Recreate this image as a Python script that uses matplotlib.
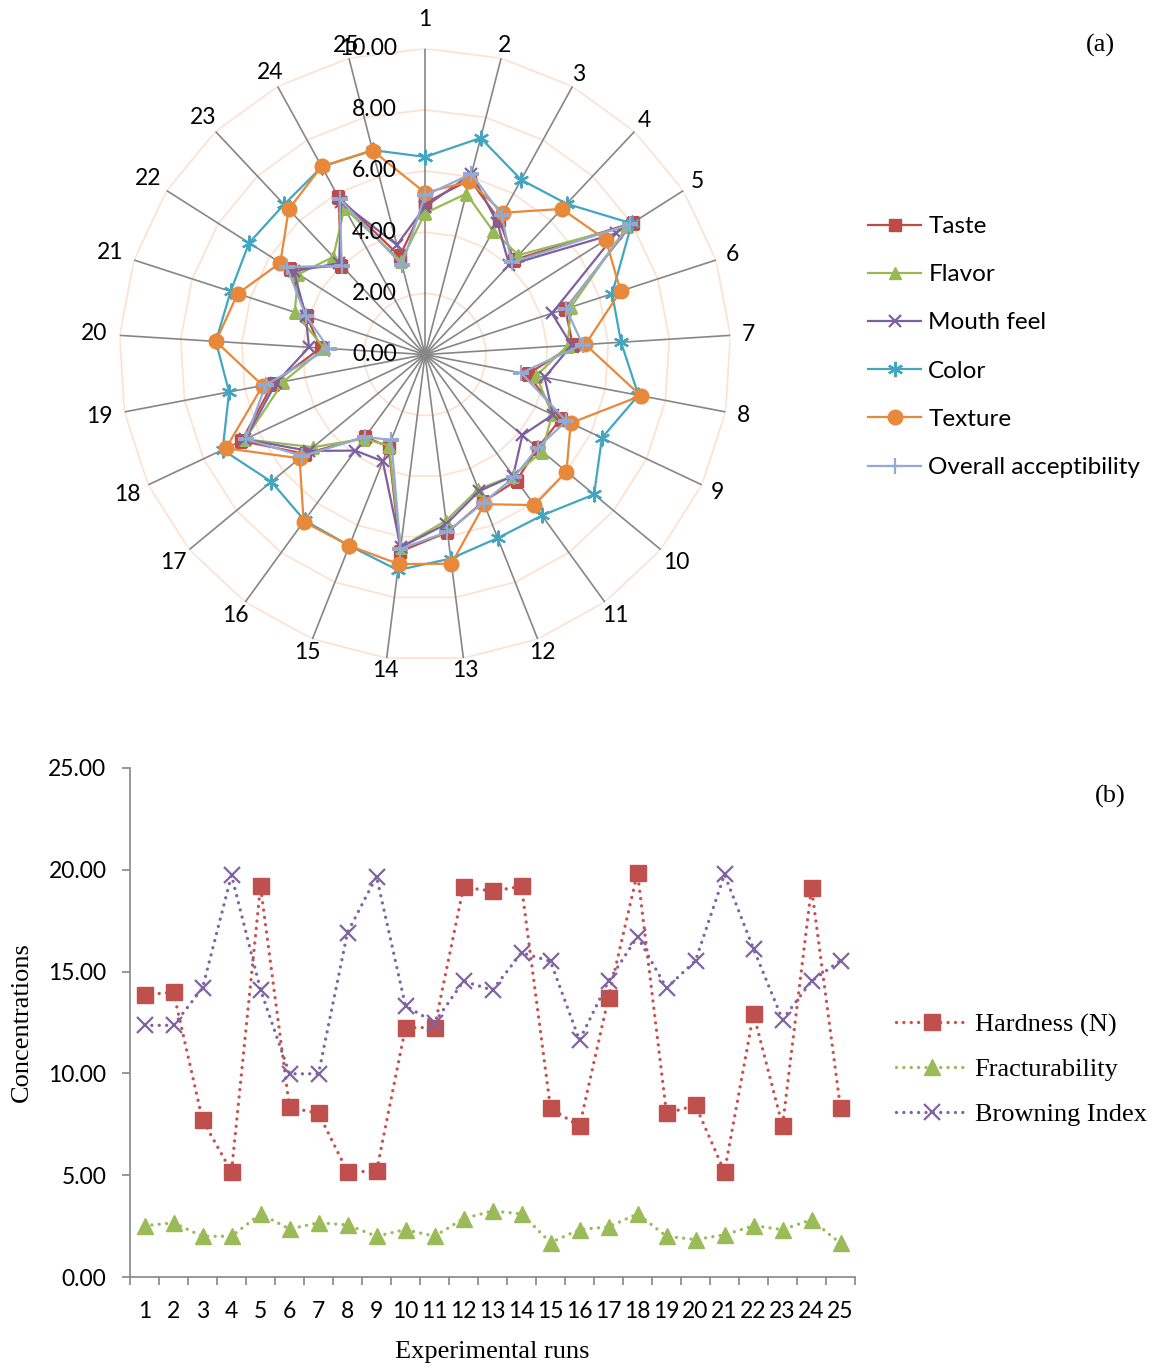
import numpy as np
import matplotlib
matplotlib.use("Agg")
import matplotlib.pyplot as plt
from matplotlib import transforms

SANS = "Lato"
SERIF = "Liberation Serif"

runs = list(range(1, 26))
run_labels = [str(r) for r in runs]

# sensory scores, one value per experimental run
taste = [4.95, 5.90, 5.03, 4.24, 8.04, 4.82, 4.84, 3.42, 4.91, 4.78, 5.09, 5.17, 5.85,
         6.49, 3.24, 3.33, 5.09, 6.63, 5.06, 3.42, 4.07, 5.21, 3.99, 5.88, 3.32]
flavor = [4.62, 5.43, 4.61, 4.46, 7.83, 5.01, 4.67, 3.70, 4.59, 4.97, 4.90, 4.73, 5.47,
          6.35, 3.20, 3.40, 4.75, 6.50, 4.71, 3.30, 4.48, 4.90, 4.38, 5.47, 3.15]
mouth_feel = [4.83, 6.10, 4.91, 4.02, 7.40, 4.36, 4.80, 3.98, 4.62, 4.13, 4.90, 4.80, 5.58,
              6.35, 3.75, 3.88, 4.94, 6.50, 4.96, 3.80, 4.10, 5.08, 4.10, 5.70, 3.70]
color = [6.46, 7.31, 6.52, 6.76, 8.00, 6.43, 6.42, 7.10, 6.39, 7.17, 6.50, 6.45, 6.72,
         7.10, 6.72, 6.70, 6.52, 7.31, 6.52, 6.85, 6.68, 6.81, 6.73, 7.00, 6.90]
texture = [5.29, 5.84, 5.29, 6.53, 7.00, 6.72, 5.25, 7.18, 5.26, 6.00, 6.08, 5.26, 6.89,
           6.90, 6.72, 6.75, 5.32, 7.19, 5.40, 6.85, 6.44, 5.60, 6.51, 7.02, 6.88]
overall = [5.20, 6.10, 5.20, 4.13, 7.95, 4.85, 5.16, 3.20, 5.10, 4.78, 4.95, 5.20, 5.84,
           6.40, 3.00, 3.33, 5.20, 6.48, 5.30, 3.15, 4.10, 5.35, 3.97, 5.80, 3.03]

radial_ticks = [0, 2, 4, 6, 8, 10]

# texture / colour measurements
hardness = [13.86, 13.99, 7.71, 5.17, 19.19, 8.33, 8.04, 5.17, 5.19, 12.25, 12.25, 19.15, 18.95,
            19.19, 8.29, 7.40, 13.72, 19.86, 8.04, 8.43, 5.17, 12.93, 7.42, 19.13, 8.29]
fracturability = [2.52, 2.66, 2.00, 2.00, 3.10, 2.36, 2.66, 2.56, 2.00, 2.33, 2.00, 2.87, 3.24,
                  3.10, 1.69, 2.33, 2.46, 3.10, 2.00, 1.84, 2.07, 2.52, 2.33, 2.81, 1.65]
browning_index = [12.36, 12.36, 14.19, 19.73, 14.11, 9.98, 9.98, 16.92, 19.67, 13.31, 12.50, 14.53, 14.09,
                  15.93, 15.50, 11.63, 14.53, 16.72, 14.19, 15.54, 19.77, 16.12, 12.64, 14.53, 15.54]

conc_ticks = [0, 5, 10, 15, 20, 25]

DOTS = (0, (0.01, 2.2))


def radar_panel(fig):
	"""spider chart of the sensory scores"""
	ax = fig.add_axes([0.1033, 0.5175, 0.5313, 0.4470], projection="polar")
	ax.set_theta_zero_location("N")
	ax.set_theta_direction(-1)
	ax.set_ylim(0, 10)
	ax.grid(False)
	ax.set_xticks([])
	ax.set_yticks([])
	ax.spines["polar"].set_visible(False)
	ax.patch.set_alpha(0)

	n = len(runs)
	theta = np.arange(n) * 2 * np.pi / n
	closed = np.append(theta, theta[0])

	for r in radial_ticks[1:]:
		ax.plot(closed, [r] * (n + 1), color="#FCE3D1", lw=1.3, zorder=1)
	for t in theta:
		ax.plot([t, t], [0, radial_ticks[-1]], color="#868686", lw=1.2, zorder=2)

	series = [
		("Taste", taste, "#BE4B48", dict(marker="s", ms=9)),
		("Flavor", flavor, "#98B954", dict(marker="^", ms=9)),
		("Mouth feel", mouth_feel, "#7D60A0", dict(marker="x", ms=9, mew=1.6)),
		("Color", color, "#42A6C1", dict(marker=(6, 2, 0), ms=11, mew=1.6)),
		("Texture", texture, "#E8883A", dict(marker="o", ms=10.5)),
		("Overall acceptibility", overall, "#93ABD2", dict(marker="+", ms=11, mew=1.6)),
	]
	handles = []
	for name, vals, c, mk in series:
		line, = ax.plot(closed, vals + vals[:1], color=c, lw=1.6, label=name,
						mfc=c, mec=c, zorder=3, **mk)
		handles.append(line)

	# value labels to the left of the first spoke
	shift = transforms.offset_copy(ax.transData, fig=fig, x=-28, y=0, units="dots")
	for r in radial_ticks:
		ax.text(0, r, "%.2f" % r, transform=shift, ha="right", va="center",
				family=SANS, fontsize=16.5, zorder=5)

	for i, (t, lab) in enumerate(zip(theta, run_labels)):
		r_lab = 10.4 + (0.2 + 0.25 * (len(lab) - 1)) * np.sin(t) ** 2
		if i == 0:
			r_lab += 0.55
		ax.text(t, r_lab, lab, ha="center", va="center", family=SANS, fontsize=16.5)

	fig.legend(handles=handles, loc="upper left", bbox_to_anchor=(868 / 1152, 1 - 216 / 1369),
			   frameon=False, prop={"family": SANS, "size": 17.5}, handlelength=2.2,
			   handletextpad=0.28, labelspacing=1.12, borderpad=0, borderaxespad=0)
	return ax


def line_panel(fig):
	"""dotted line chart of hardness, fracturability and browning"""
	ax = fig.add_axes([130 / 1152, 1 - 1277 / 1369, 725 / 1152, 509 / 1369])
	ax.plot(runs, hardness, ls=DOTS, lw=2.4, color="#C8504D", marker="s", ms=11,
			mfc="#C0504D", mec="#C0504D", dash_capstyle="round", label="Hardness (N)")
	ax.plot(runs, fracturability, ls=DOTS, lw=2.4, color="#9BBB59", marker="^", ms=11,
			dash_capstyle="round", label="Fracturability")
	ax.plot(runs, browning_index, ls=DOTS, lw=2.4, color="#8064A2", marker="x", ms=11,
			mew=1.6, dash_capstyle="round", label="Browning Index")

	ax.set_xlim(0.5, len(runs) + 0.5)
	ax.set_ylim(conc_ticks[0], conc_ticks[-1])
	for s in ["top", "right"]:
		ax.spines[s].set_visible(False)
	for s in ["left", "bottom"]:
		ax.spines[s].set_color("#868686")
		ax.spines[s].set_linewidth(1.2)

	ax.set_yticks(conc_ticks)
	ax.set_yticklabels(["%.2f" % v for v in conc_ticks], family=SANS, fontsize=16.5)
	ax.tick_params(axis="y", direction="out", length=6, width=1.2, color="#868686", pad=11)

	ax.set_xticks(runs)
	ax.set_xticklabels(run_labels, family=SANS, fontsize=16.5)
	ax.set_xticks(np.arange(0.5, len(runs) + 1), minor=True)
	ax.tick_params(axis="x", which="major", length=0, pad=17)
	ax.tick_params(axis="x", which="minor", direction="out", length=6, width=1.2, color="#868686")

	ax.set_xlabel("Experimental runs", family=SERIF, fontsize=19)
	ax.xaxis.set_label_coords(0.5, -0.147)
	ax.xaxis.label.set_verticalalignment("center")
	ax.set_ylabel("Concentrations", family=SERIF, fontsize=19)
	ax.yaxis.set_label_coords(-0.149, 0.5)
	ax.yaxis.label.set_verticalalignment("center")

	fig.legend(handles=ax.get_lines(), loc="upper left", bbox_to_anchor=(896 / 1152, 1 - 1013 / 1369),
			   frameon=False, prop={"family": SERIF, "size": 19}, handlelength=2.7,
			   handletextpad=0.28, labelspacing=0.8, borderpad=0, borderaxespad=0)
	return ax


def main():
	fig = plt.figure(figsize=(11.52, 13.69), dpi=100)
	radar_panel(fig)
	line_panel(fig)
	fig.text(1100 / 1152, 1 - 45 / 1369, "(a)", family=SERIF, fontsize=19, ha="center", va="center")
	fig.text(1110 / 1152, 1 - 796 / 1369, "(b)", family=SERIF, fontsize=19, ha="center", va="center")
	fig.savefig("out.png", dpi=100)


if __name__ == "__main__":
	main()
